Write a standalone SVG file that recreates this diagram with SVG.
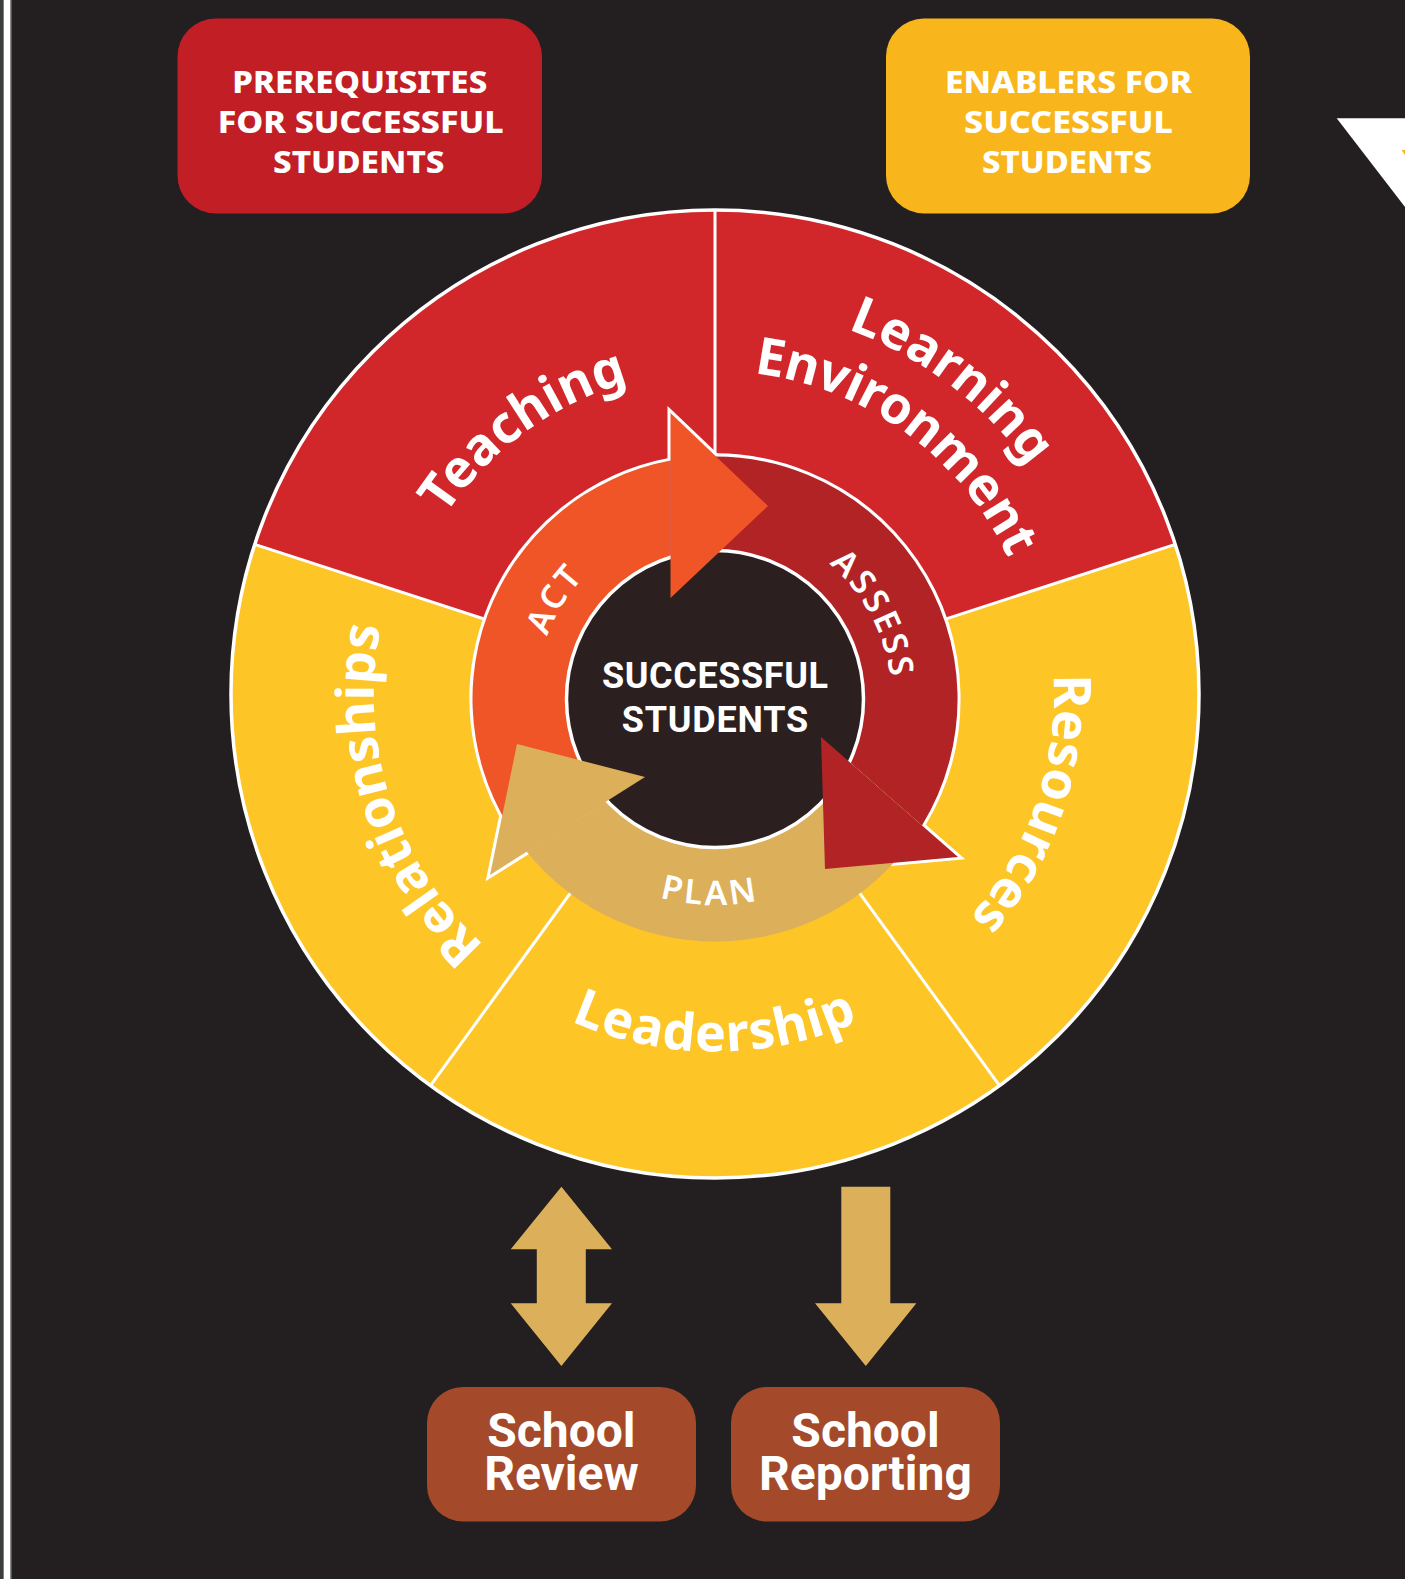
<svg xmlns="http://www.w3.org/2000/svg" width="1405" height="1579" viewBox="0 0 1405 1579">
<style>
.sec{font-family:"Noto Sans","Liberation Sans",sans-serif;font-weight:700;font-size:52px;fill:#fff}
.ring{font-family:"Noto Sans","Liberation Sans",sans-serif;font-weight:600;font-size:34px;fill:#fff;letter-spacing:3px}
.hdr{font-family:"Noto Sans","Liberation Sans",sans-serif;font-weight:800;font-size:30px;fill:#fff;text-anchor:middle}
.ctr{font-family:Roboto,"Liberation Sans",sans-serif;font-weight:700;font-size:36px;fill:#fff;text-anchor:middle}
.bot{font-family:Roboto,"Liberation Sans",sans-serif;font-weight:700;font-size:48px;fill:#fff;text-anchor:middle}
.div{stroke:#fff;stroke-width:3}
.halo{fill:#fff;stroke:#fff;stroke-width:6;stroke-linejoin:miter}
.tan{fill:#DCB05A}
</style>
<defs>
<path id="pTeach" d="M438.1,860.4 A323,323 0 0 1 958.8,482.1"/>
<path id="pLearn" d="M422.2,439.4 A388,388 0 0 1 1047.6,893.8"/>
<path id="pEnv" d="M471.2,482.1 A323,323 0 0 1 991.9,860.3"/>
<path id="pRes" d="M852.9,384.3 A339,339 0 0 1 633,1022.9"/>
<path id="pLead" d="M358.4,725.2 A358,358 0 0 0 1071.6,725.2"/>
<path id="pRel" d="M791.7,1026.3 A341,341 0 0 1 581.8,380.1"/>
<path id="pAct" d="M607.3,842 A179,179 0 0 1 796.3,539.5"/>
<path id="pAss" d="M645.8,536.1 A177,177 0 0 1 811.4,847.4"/>
<path id="pPlan" d="M509.4,711.6 A206,206 0 0 0 919.7,722.3"/>
</defs>
<rect x="0" y="0" width="1405" height="1579" fill="#231F20"/>
<rect x="0" y="0" width="3.6" height="1579" fill="#3c3c3c"/>
<rect x="3.6" y="0" width="6.4" height="1579" fill="#fff"/>
<rect x="10" y="0" width="1.5" height="1579" fill="#8a8a8a"/>
<g id="corner-mark">
<polygon points="1336.7,118.3 1405,118.3 1405,207" fill="#fff"/>
<polygon points="1401.5,150 1405,150 1405,155" fill="#F8B51C"/>
</g>
<g id="prerequisites">
<rect x="177.5" y="18.5" width="364.5" height="195" rx="38" fill="#C11F25"/>
<text class="hdr" x="359.8" y="93.3" textLength="255" lengthAdjust="spacingAndGlyphs">PREREQUISITES</text>
<text class="hdr" x="360.7" y="133.3" textLength="286" lengthAdjust="spacingAndGlyphs">FOR SUCCESSFUL</text>
<text class="hdr" x="358.8" y="173.3" textLength="171.6" lengthAdjust="spacingAndGlyphs">STUDENTS</text>
</g>
<g id="enablers">
<rect x="886" y="18.5" width="364" height="195" rx="38" fill="#F8B51C"/>
<text class="hdr" x="1068.5" y="93.3" textLength="247" lengthAdjust="spacingAndGlyphs">ENABLERS FOR</text>
<text class="hdr" x="1068.5" y="133.3" textLength="209" lengthAdjust="spacingAndGlyphs">SUCCESSFUL</text>
<text class="hdr" x="1067" y="173.3" textLength="170" lengthAdjust="spacingAndGlyphs">STUDENTS</text>
</g>
<g id="wheel">
<g id="teaching"><path d="M715,694 L254.7,544.4 A484,484 0 0 1 715,210 Z" fill="#D1262A"/></g>
<g id="learning-environment"><path d="M715,694 L715,210 A484,484 0 0 1 1175.3,544.4 Z" fill="#D1262A"/></g>
<g id="resources"><path d="M715,694 L1175.3,544.4 A484,484 0 0 1 999.5,1085.6 Z" fill="#FDC526"/></g>
<g id="leadership"><path d="M715,694 L999.5,1085.6 A484,484 0 0 1 430.5,1085.6 Z" fill="#FDC526"/></g>
<g id="relationships"><path d="M715,694 L430.5,1085.6 A484,484 0 0 1 254.7,544.4 Z" fill="#FDC526"/></g>
<circle cx="715" cy="694" r="484" fill="none" stroke="#fff" stroke-width="3.5"/>
<line class="div" x1="715" y1="694" x2="715" y2="210"/>
<line class="div" x1="715" y1="694" x2="1175.3" y2="544.4"/>
<line class="div" x1="715" y1="694" x2="999.5" y2="1085.6"/>
<line class="div" x1="715" y1="694" x2="430.5" y2="1085.6"/>
<line class="div" x1="715" y1="694" x2="254.7" y2="544.4"/>
<text class="sec" text-anchor="middle"><textPath href="#pTeach" startOffset="50%">Teaching</textPath></text>
<text class="sec" text-anchor="middle"><textPath href="#pLearn" startOffset="50.6%">Learning</textPath></text>
<text class="sec" text-anchor="middle" letter-spacing="-0.6"><textPath href="#pEnv" startOffset="50%">Environment</textPath></text>
<text class="sec" text-anchor="middle"><textPath href="#pRes" startOffset="50%">Resources</textPath></text>
<text class="sec" text-anchor="middle" letter-spacing="1"><textPath href="#pLead" startOffset="50%">Leadership</textPath></text>
<text class="sec" text-anchor="middle"><textPath href="#pRel" startOffset="50%">Relationships</textPath></text>
</g>
<g id="cycle">
<g id="halos">
<path class="halo" d="M526.7,851.8 A242.5,242.5 0 0 1 670.5,460.6 L670.5,557.3 A148.5,148.5 0 0 0 607,801 Z"/>
<path class="halo" d="M670.5,460.6 A242.5,242.5 0 0 1 922,825.4 L849.5,762 A148.5,148.5 0 0 0 670.5,557.3 Z"/>
<path class="halo" d="M670.5,413 L768,506 L670.5,598 Z"/>
<path class="halo" d="M821,737 L825,869 L958,857 Z"/>
<path class="halo" d="M645,777 L517,744 L490,875 Z"/>
</g>
<g id="act"><path d="M526.7,851.8 A242.5,242.5 0 0 1 670.5,460.6 L670.5,557.3 A148.5,148.5 0 0 0 607,801 Z" fill="#F05528"/></g>
<g id="assess"><path d="M670.5,460.6 A242.5,242.5 0 0 1 922,825.4 L849.5,762 A148.5,148.5 0 0 0 670.5,557.3 Z" fill="#B12325"/></g>
<g id="plan"><path d="M922,825.4 A242.5,242.5 0 0 1 526.7,851.8 L607,801 A148.5,148.5 0 0 0 849.5,762 Z" class="tan"/></g>
<g id="successful-students">
<circle cx="715" cy="699" r="148.5" fill="#2B201F" stroke="#fff" stroke-width="3.5"/>
<text class="ctr" x="715" y="688" textLength="226" lengthAdjust="spacing">SUCCESSFUL</text>
<text class="ctr" x="715" y="732" textLength="186.5" lengthAdjust="spacing">STUDENTS</text>
</g>
<path d="M670.5,413 L768,506 L670.5,598 Z" fill="#F05528"/>
<path d="M821,737 L825,869 L958,857 Z" fill="#B12325"/>
<path d="M645,777 L517,744 L490,875 Z" class="tan"/>
<text class="ring" text-anchor="middle"><textPath href="#pAct" startOffset="50%">ACT</textPath></text>
<text class="ring" text-anchor="middle"><textPath href="#pAss" startOffset="50%">ASSESS</textPath></text>
<text class="ring" text-anchor="middle"><textPath href="#pPlan" startOffset="50%">PLAN</textPath></text>
</g>
<g id="connectors">
<polygon class="tan" points="561.4,1186.7 612,1249.3 585.8,1249.3 585.8,1303.3 612,1303.3 561.4,1366 510.7,1303.3 536.8,1303.3 536.8,1249.3 510.7,1249.3"/>
<polygon class="tan" points="841.3,1186.7 890.3,1186.7 890.3,1303.3 916.4,1303.3 865.8,1366 815,1303.3 841.3,1303.3"/>
</g>
<g id="school-review">
<rect x="427" y="1387" width="269" height="134.5" rx="36" fill="#A44A2B"/>
<text class="bot" x="561.4" y="1446.7">School</text>
<text class="bot" x="561.4" y="1490">Review</text>
</g>
<g id="school-reporting">
<rect x="731" y="1387" width="269" height="134.5" rx="36" fill="#A44A2B"/>
<text class="bot" x="865.5" y="1446.7">School</text>
<text class="bot" x="865.5" y="1490">Reporting</text>
</g>
</svg>
